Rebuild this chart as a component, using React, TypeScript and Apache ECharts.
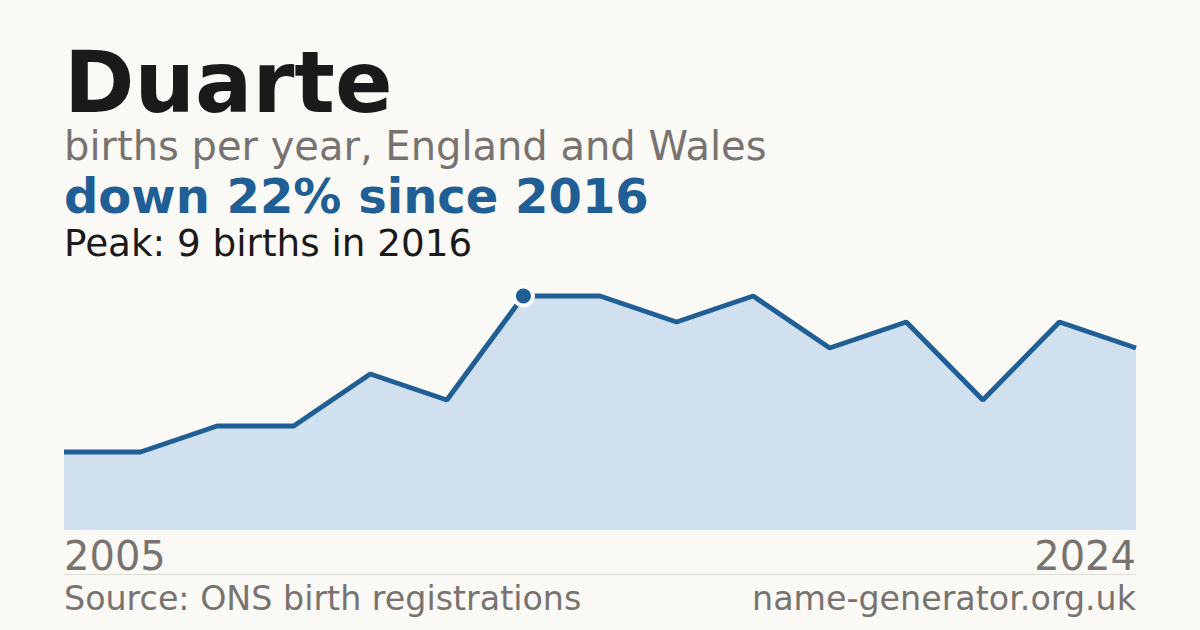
import React, { useEffect, useRef } from "react";
import * as echarts from "echarts";

// years with registrations, and births per year
const years = [
  "2005", "2006", "2008", "2010", "2012", "2014", "2016", "2017",
  "2018", "2019", "2020", "2021", "2022", "2023", "2024",
];
const births = [3, 3, 4, 4, 6, 5, 9, 9, 8, 9, 7, 8, 5, 8, 7];
const peakIndex = 6;

const FONT = "DejaVu Sans";
const BLUE = "#1f5f96";
const GREY = "#787370";

const App = () => {
  const chartRef = useRef<HTMLDivElement>(null);

  useEffect(() => {
    const chart = echarts.init(chartRef.current, null, { renderer: "svg" });

    const seriesData = births.map((v, i) =>
      i === peakIndex
        ? {
            value: v,
            symbol: "circle",
            symbolSize: 19,
            itemStyle: { color: BLUE, borderColor: "#ffffff", borderWidth: 4 },
          }
        : { value: v, symbol: "none" }
    );

    const last = years.length - 1;

    chart.setOption({
      animation: false,
      backgroundColor: "#faf9f5",
      grid: { left: 64, right: 64, top: 270, bottom: 100 },
      xAxis: {
        type: "category",
        data: years,
        boundaryGap: false,
        axisLine: { show: false },
        axisTick: { show: false },
        axisLabel: {
          interval: (i: number) => i === 0 || i === last,
          alignMinLabel: "left",
          alignMaxLabel: "right",
          color: GREY,
          fontFamily: FONT,
          fontSize: 40,
          margin: 6,
        },
      },
      yAxis: {
        type: "value",
        min: 0,
        max: 10,
        show: false,
        splitLine: { show: false },
      },
      series: [
        {
          type: "line",
          data: seriesData,
          showSymbol: true,
          lineStyle: { color: BLUE, width: 5 },
          itemStyle: { color: BLUE },
          areaStyle: { color: "#d0e0ef", opacity: 1 },
          z: 2,
        },
      ],
      graphic: [
        {
          type: "text",
          left: 64,
          top: 40,
          style: { text: "Duarte", font: `bold 85px "${FONT}"`, fill: "#1a1a1a" },
        },
        {
          type: "text",
          left: 64,
          top: 126,
          style: {
            text: "births per year, England and Wales",
            font: `40px "${FONT}"`,
            fill: GREY,
          },
        },
        {
          type: "text",
          left: 64,
          top: 172,
          style: {
            text: "down 22% since 2016",
            font: `bold 48px "${FONT}"`,
            fill: BLUE,
          },
        },
        {
          type: "text",
          left: 64,
          top: 224,
          style: {
            text: "Peak: 9 births in 2016",
            font: `37.3px "${FONT}"`,
            fill: "#1a1a1a",
          },
        },
        {
          type: "line",
          shape: { x1: 64, y1: 574.5, x2: 1136, y2: 574.5 },
          style: { stroke: "#dedbd5", lineWidth: 1 },
        },
        {
          type: "text",
          left: 64,
          top: 582,
          style: {
            text: "Source: ONS birth registrations",
            font: `33.3px "${FONT}"`,
            fill: GREY,
          },
        },
        {
          type: "text",
          right: 64,
          top: 582,
          style: {
            text: "name-generator.org.uk",
            font: `33.3px "${FONT}"`,
            fill: GREY,
          },
        },
      ],
    });

    return () => chart.dispose();
  }, []);

  return (
    <div
      ref={chartRef}
      style={{ position: "fixed", left: 0, top: 0, width: 1200, height: 630 }}
    />
  );
};

export default App;
